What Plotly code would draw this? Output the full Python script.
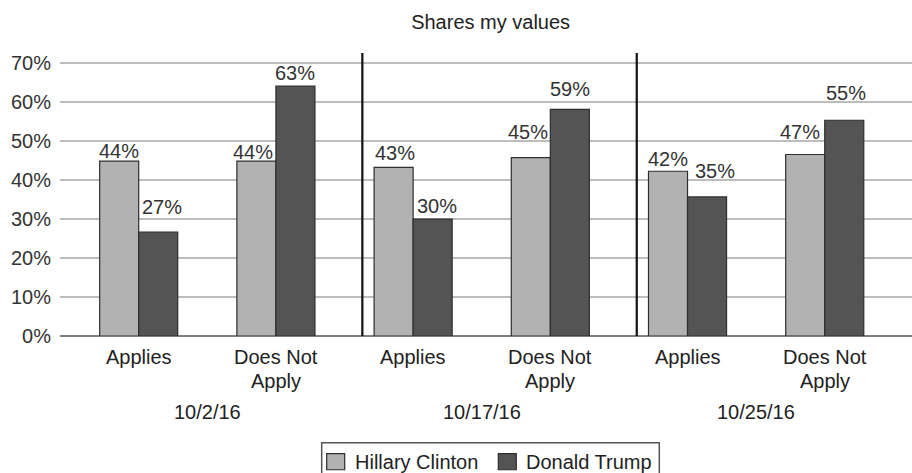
import plotly.graph_objects as go

# ---- data ----
categories = ["Applies", "Does Not<br>Apply", "Applies", "Does Not<br>Apply", "Applies", "Does Not<br>Apply"]
dates = ["10/2/16", "10/17/16", "10/25/16"]
series_names = ["Hillary Clinton", "Donald Trump"]
clinton = [44.9, 44.9, 43.3, 45.8, 42.3, 46.6]
trump = [26.7, 64.2, 30.0, 58.2, 35.7, 55.4]
clinton_labels = ["44%", "44%", "43%", "45%", "42%", "47%"]
trump_labels = ["27%", "63%", "30%", "59%", "35%", "55%"]
yticks = [0, 10, 20, 30, 40, 50, 60, 70]
ytick_text = [f"{v}%" for v in yticks]

# ---- style ----
FONT = "Liberation Sans, Arial, sans-serif"
C_FILL = "#b2b2b2"
T_FILL = "#545454"
EDGE = "#2e2e2e"
TXT = "#333333"
BARGAP = 0.431
clinton_dy = [10, 9, 14.5, 25.7, 12, 23]
trump_dy = [24.7, 13, 13.5, 20.6, 26, 27]
clinton_dx = [0, -3, 1, -3, 0, -5]
trump_dx = [4, 0, 4, 0, 8, 2]
separators = [1.63, 3.63]

W, H = 912, 473
ML, MR, MT, MB = 60, 0, 53, 137.3
PW, PH = W - ML - MR, H - MT - MB


def px2paper(px, py):
    return (px - ML) / PW, (H - MB - py) / PH


x = list(range(len(categories)))

fig = go.Figure()
fig.add_trace(go.Bar(x=x, y=clinton, name=series_names[0], showlegend=False,
                     marker=dict(color=C_FILL, line=dict(color=EDGE, width=1.2))))
fig.add_trace(go.Bar(x=x, y=trump, name=series_names[1], showlegend=False,
                     marker=dict(color=T_FILL, line=dict(color=EDGE, width=1.2))))

half = (1 - BARGAP) / 4
ann = []
for i in x:
    ann.append(dict(x=i - half, y=clinton[i], text=clinton_labels[i], showarrow=False,
                    xref="x", yref="y", yanchor="middle", xanchor="center",
                    yshift=clinton_dy[i], xshift=clinton_dx[i],
                    font=dict(family=FONT, size=20, color=TXT)))
    ann.append(dict(x=i + half, y=trump[i], text=trump_labels[i], showarrow=False,
                    xref="x", yref="y", yanchor="middle", xanchor="center",
                    yshift=trump_dy[i], xshift=trump_dx[i],
                    font=dict(family=FONT, size=20, color=TXT)))
    lines = categories[i].split("<br>")
    for k, ln in enumerate(lines):
        ann.append(dict(x=i, y=0, text=ln, showarrow=False, xref="x", yref="paper",
                        yanchor="middle", xanchor="center", yshift=-20.5 - 24.5 * k,
                        font=dict(family=FONT, size=20, color="#222222")))
for j, d in enumerate(dates):
    ann.append(dict(x=2 * j + 0.5, y=0, text=d, showarrow=False, xref="x", yref="paper",
                    yanchor="middle", xanchor="center", yshift=-76,
                    font=dict(family=FONT, size=20, color="#222222")))

shapes = [dict(type="line", xref="x", yref="paper", x0=s, x1=s, y0=0, y1=1,
               line=dict(color="#111111", width=2.2)) for s in separators]

# ---- hand-drawn legend (box cut by the bottom edge as in the reference) ----
bx0, by0 = px2paper(321.7, 442.3)
bx1, by1 = px2paper(659.3, 485)
shapes.append(dict(type="rect", xref="paper", yref="paper", x0=bx0, x1=bx1, y0=by1, y1=by0,
                   line=dict(color="#555555", width=1.5), fillcolor="rgba(0,0,0,0)"))
legend_items = [(series_names[0], C_FILL, 326.7, 353.3), (series_names[1], T_FILL, 498.3, 524.3)]
for name, col, sx, tx in legend_items:
    sx0, sy0 = px2paper(sx, 453.3)
    sx1, sy1 = px2paper(sx + 18, 469.3)
    shapes.append(dict(type="rect", xref="paper", yref="paper", x0=sx0, x1=sx1, y0=sy1, y1=sy0,
                       line=dict(color=EDGE, width=1.2), fillcolor=col))
    tpx, tpy = px2paper(tx, 461.5)
    ann.append(dict(x=tpx, y=tpy, xref="paper", yref="paper", text=name, showarrow=False,
                    xanchor="left", yanchor="middle",
                    font=dict(family=FONT, size=20, color="#222222")))

fig.update_layout(
    width=W, height=H,
    margin=dict(l=ML, r=MR, t=MT, b=MB, autoexpand=False),
    paper_bgcolor="white", plot_bgcolor="white",
    barmode="group", bargap=BARGAP, bargroupgap=0,
    title=dict(text="Shares my values", x=0.538, xanchor="center",
               y=1 - 22 / 473, yanchor="middle", yref="container",
               font=dict(family=FONT, size=20, color="#222222")),
    xaxis=dict(range=[-0.5736, 5.636], showticklabels=False, showgrid=False,
               zeroline=False, showline=False, ticks=""),
    yaxis=dict(range=[0, 72.67], tickmode="array", tickvals=yticks, ticktext=ytick_text,
               showgrid=True, gridcolor="#bdbdbd", gridwidth=1.6,
               zeroline=True, zerolinecolor="#808080", zerolinewidth=2,
               showline=False, ticks="", ticklabelstandoff=8, automargin=False,
               tickfont=dict(family=FONT, size=20, color=TXT)),
    showlegend=False,
    annotations=ann, shapes=shapes,
)

fig.write_html("out.html")
